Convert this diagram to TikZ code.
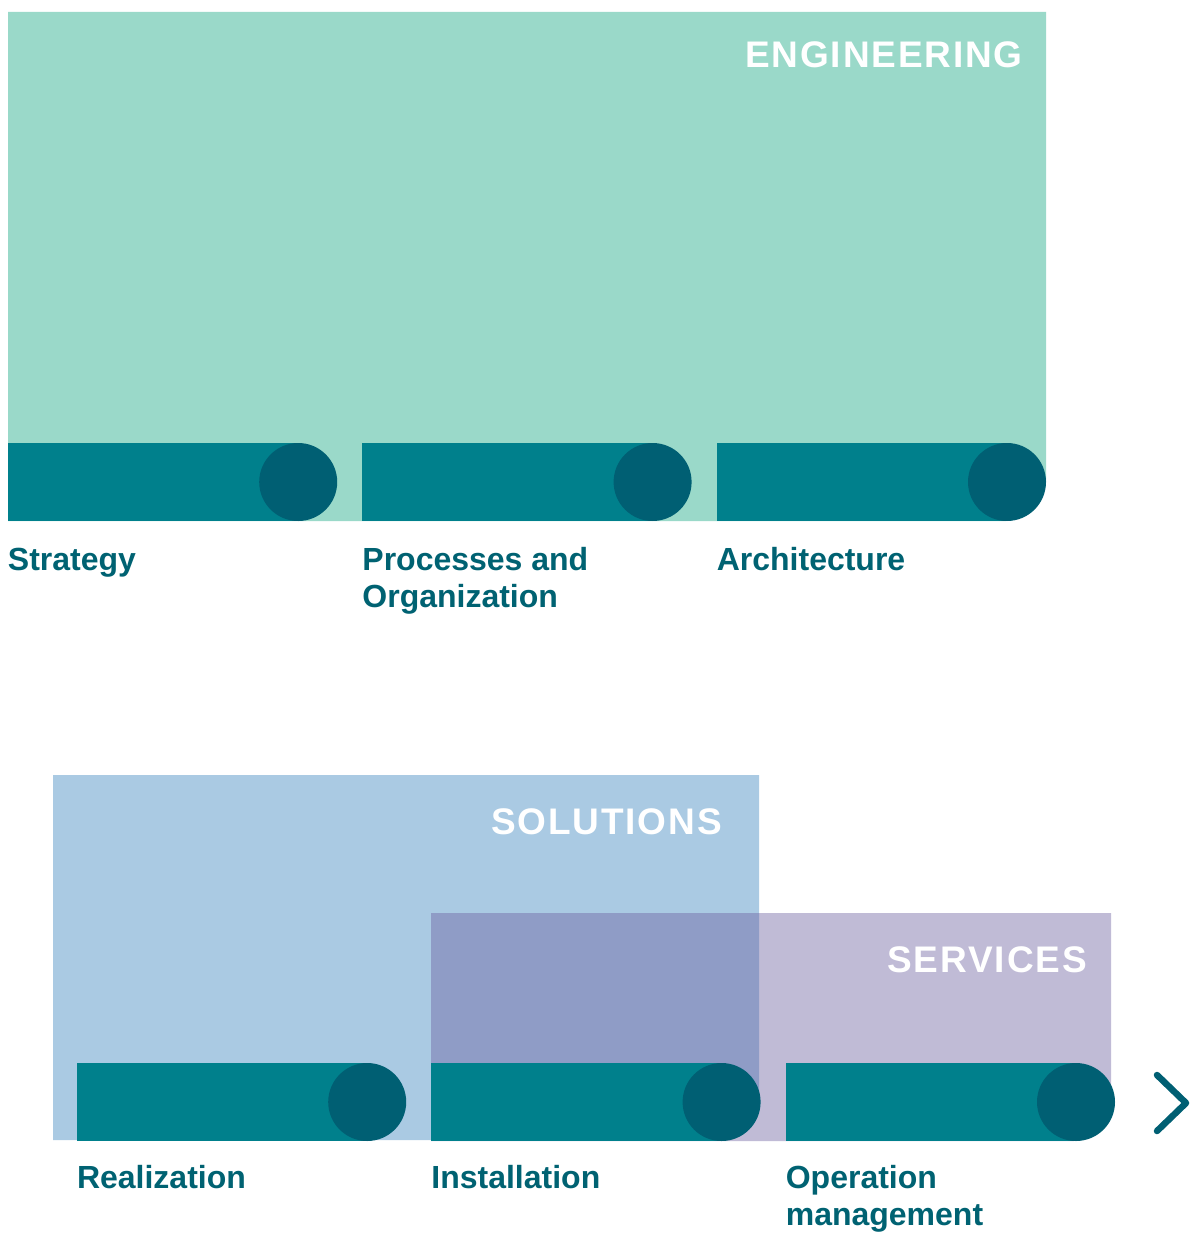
\documentclass[tikz,border=0pt]{standalone}
\usepackage{fontspec}
\setmainfont{Liberation Sans}
\usepackage{tikz}
\usetikzlibrary{positioning}
\usepackage{xcolor}
\definecolor{engc}{HTML}{9AD9C9}
\definecolor{solc}{HTML}{AACAE3}
\definecolor{servc}{HTML}{6C61A0}
\definecolor{barc}{HTML}{00808C}
\definecolor{knobc}{HTML}{005F73}
\definecolor{lblc}{HTML}{006272}

\begin{document}
\begin{tikzpicture}[x=1pt, y=-1pt, node distance=64pt,
    bar/.style={rectangle, fill=barc, minimum width=290pt, minimum height=78pt, inner sep=0pt},
    knob/.style={circle, fill=knobc, minimum size=78pt, inner sep=0pt},
    lbl/.style={text=lblc, font=\fontsize{32}{37}\selectfont\bfseries, inner sep=0pt, align=left, anchor=base west},
    lbltwo/.style={lbl, yshift=-37pt},
    head/.style={text=white, font=\fontsize{37}{40}\selectfont\bfseries\addfontfeature{LetterSpace=5}, inner sep=0pt, anchor=base east}]
    \useasboundingbox (0,0) rectangle (1192,1233);

    % Engineering
    \fill[engc] (8,12) -- (1046,12) -- (1046,482) -- (1006,482) -- (1006,521) -- (8,521) -- cycle;
    \node[head] (eng) at (1023,68) {ENGINEERING};

    % Solutions / Services
    \fill[solc] (53,775) -- (759,775) -- (759,1102) -- (720,1102) -- (720,1140) -- (53,1140) -- cycle;
    \fill[servc, fill opacity=0.43] (431,913) -- (1111,913) -- (1111,1102) -- (1074,1102) -- (1074,1141) -- (431,1141) -- cycle;
    \node[head] (sol) at (722,834) {SOLUTIONS};
    \node[head] (serv) at (1087,972) {SERVICES};

    % upper row
    \node[bar] (strat) at (153,482) {};
    \node[bar, right=of strat] (proc) {};
    \node[bar, right=of proc] (arch) {};
    \foreach \b in {strat,proc,arch}
        \node[knob] (\b k) at (\b.east) {};

    % lower row
    \node[bar] (real) at (222,1102) {};
    \node[bar, right=of real] (inst) {};
    \node[bar, right=of inst] (oper) {};
    \foreach \b in {real,inst,oper}
        \node[knob] (\b k) at (\b.east) {};

    % labels
    \node[lbl] (stratl) at ([yshift=-49pt]strat.south west) {Strategy};
    \node[lbltwo] (procl) at ([yshift=-49pt]proc.south west) {Processes and\\Organization};
    \node[lbl] (archl) at ([yshift=-49pt]arch.south west) {Architecture};
    \node[lbl] (reall) at ([yshift=-47pt]real.south west) {Realization};
    \node[lbl] (instl) at ([yshift=-47pt]inst.south west) {Installation};
    \node[lbltwo] (operl) at ([yshift=-47pt]oper.south west) {Operation\\management};

    % next
    \coordinate (nxt) at (1186,1103);
    \draw[knobc, line width=6.5pt, line cap=round, line join=round] ([shift={(-29,-28)}]nxt) -- (nxt) -- ([shift={(-29,28)}]nxt);
\end{tikzpicture}
\end{document}
